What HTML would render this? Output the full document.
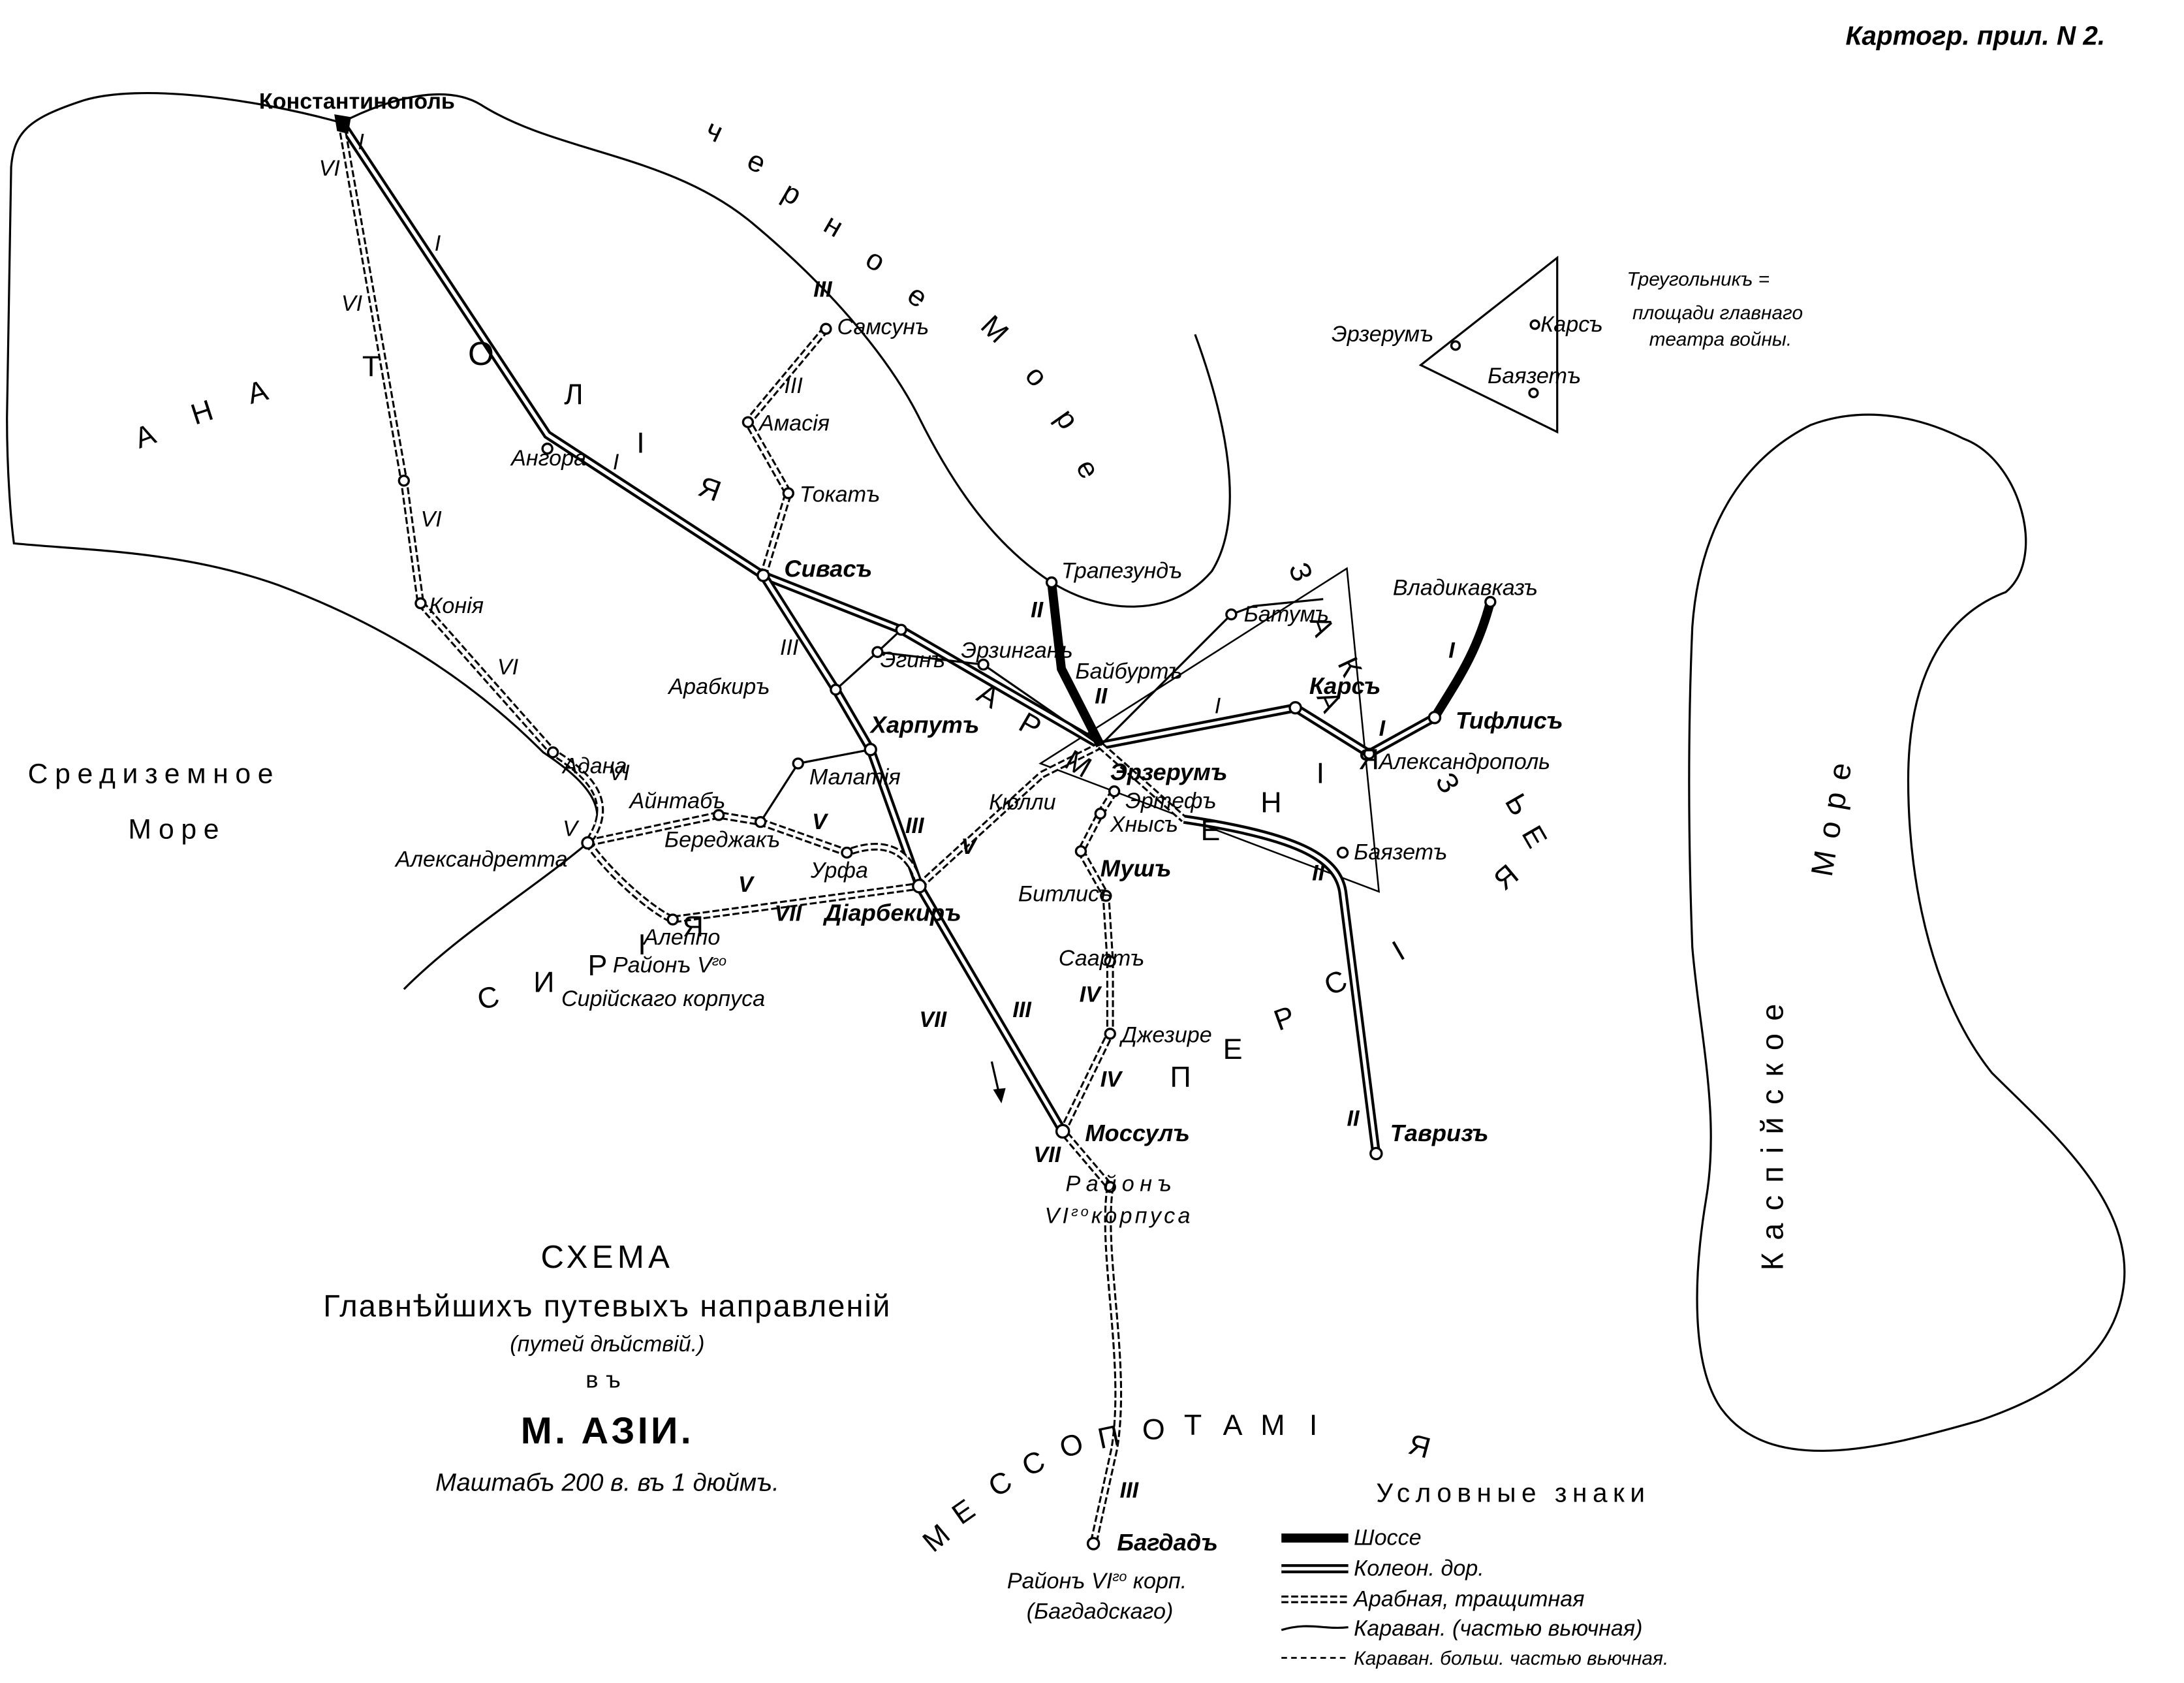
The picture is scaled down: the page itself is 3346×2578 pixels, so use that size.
<!DOCTYPE html>
<html><head><meta charset="utf-8"><style>
html,body{margin:0;padding:0;background:#fff}
svg{display:block}
text{font-family:"Liberation Sans","DejaVu Sans",sans-serif;fill:#000}
.i{font-style:italic;font-size:16px}
.b{font-weight:bold}
.k{fill:none;stroke:#000;stroke-width:6.5}
.kw{fill:none;stroke:#fff;stroke-width:2.5}
.a{fill:none;stroke:#000;stroke-width:5.5;stroke-dasharray:5 2}
.aw{fill:none;stroke:#fff;stroke-width:2.6}
.c{fill:none;stroke:#000;stroke-width:1.5}
.d{fill:none;stroke:#000;stroke-width:1.3;stroke-dasharray:4 3}
.s{fill:none;stroke:#000;stroke-width:6.5}
.n{fill:#fff;stroke:#000;stroke-width:1.6}
.big{font-size:21px;letter-spacing:0}
</style></head><body>
<svg width="3346" height="2578" viewBox="0 0 1568 1208" xmlns="http://www.w3.org/2000/svg">
<rect width="1568" height="1208" fill="#fff"/>
<defs>
<path id="r1" d="M245,88 L393,312 L548,413 L647,452 L790,535"/>
<path id="r2" d="M790,535 L930,508 L983,541 L1030,515"/>
<path id="r3" d="M850,588 C930,600 960,615 964,640 L988,828"/>
<path id="r4" d="M660,636 L763,812"/>
<path id="r5" d="M548,413 L600,495 L625,538 L660,636"/>
<path id="a1" d="M245,88 L290,345 L302,433 L397,540 C430,560 440,580 422,605 C440,630 470,655 483,660 L660,636"/>
<path id="a2" d="M422,605 L516,585 L546,590 L608,612 C640,600 655,615 660,636"/>
<path id="a3" d="M593,236 L537,303 L566,354 L548,413 L600,495"/>
<path id="a4" d="M660,636 L748,556 L790,535"/>
<path id="a5" d="M800,568 L790,584 L776,611 L794,643 L797,690 L797,742 L763,812 L797,852 C790,900 810,980 800,1040 L785,1108"/>
<path id="a6" d="M790,535 L850,588"/>
</defs>
<path class="c" d="M245,88 C180,70 100,60 60,72 C20,85 10,95 8,120 L5,300 C5,340 8,375 10,390 C60,395 130,395 200,420 C280,450 340,490 390,540 C420,560 440,580 422,605 C380,640 330,670 290,710"/>
<path class="c" d="M245,88 C280,70 320,60 345,75 C400,110 480,110 540,160 C600,210 640,260 660,300 C690,360 720,395 755,418 C790,440 840,445 870,410 C895,370 880,300 858,240"/>
<path class="c" d="M1300,305 C1340,290 1380,300 1410,315 C1450,330 1470,400 1440,425 C1400,440 1370,480 1370,560 C1370,640 1390,720 1430,770 C1470,810 1530,860 1525,920 C1520,970 1480,1000 1420,1020 C1350,1040 1270,1060 1235,1010 C1215,980 1215,920 1225,860 C1235,800 1220,740 1215,680 C1212,600 1212,520 1215,450 C1220,380 1250,330 1300,305 Z"/>
<path class="c" d="M967,408 L990,640 L747,548 Z" style="stroke-width:1.2"/>
<path class="c" d="M1020,262 L1118,185 L1118,310 Z"/>
<use href="#r1" class="k"/><use href="#r1" class="kw"/>
<use href="#r2" class="k"/><use href="#r2" class="kw"/>
<use href="#r3" class="k"/><use href="#r3" class="kw"/>
<use href="#r4" class="k"/><use href="#r4" class="kw"/>
<use href="#r5" class="k"/><use href="#r5" class="kw"/>
<use href="#a1" class="a"/><use href="#a1" class="aw"/>
<use href="#a2" class="a"/><use href="#a2" class="aw"/>
<use href="#a3" class="a"/><use href="#a3" class="aw"/>
<use href="#a4" class="a"/><use href="#a4" class="aw"/>
<use href="#a5" class="a"/><use href="#a5" class="aw"/>
<use href="#a6" class="a"/><use href="#a6" class="aw"/>
<path class="s" d="M755,418 L762,480 L790,535"/>
<path class="s" d="M1030,515 C1045,490 1060,470 1070,432"/>
<path class="c" d="M790,535 L884,441 L900,435 L950,430"/>
<path class="c" d="M647,452 L630,468 L600,495"/>
<path class="c" d="M625,538 L573,548 L546,590"/>
<path class="c" d="M630,468 L706,477 L790,535"/>
<path class="c" d="M712,762 L718,788"/><path d="M719,792 l-6,-10 l9,-1 z"/>
<path d="M240,82 L252,84 L250,96 L242,94 Z" fill="#000"/>
<g class="n">
<circle cx="393" cy="322" r="3.5"/><circle cx="548" cy="413" r="4"/><circle cx="593" cy="236" r="3.5"/>
<circle cx="537" cy="303" r="3.5"/><circle cx="566" cy="354" r="3.5"/><circle cx="600" cy="495" r="3.5"/>
<circle cx="630" cy="468" r="3.5"/><circle cx="647" cy="452" r="3.5"/><circle cx="706" cy="477" r="3.5"/><circle cx="625" cy="538" r="4"/>
<circle cx="573" cy="548" r="3.5"/><circle cx="755" cy="418" r="3.5"/><circle cx="884" cy="441" r="3.5"/>
<circle cx="930" cy="508" r="4"/><circle cx="1030" cy="515" r="4"/><circle cx="983" cy="541" r="3.5"/>
<circle cx="1070" cy="432" r="3.5"/><circle cx="290" cy="345" r="3.5"/><circle cx="302" cy="433" r="3.5"/><circle cx="397" cy="540" r="3.5"/>
<circle cx="422" cy="605" r="4"/><circle cx="516" cy="585" r="3.5"/><circle cx="546" cy="590" r="3.5"/>
<circle cx="608" cy="612" r="3.5"/><circle cx="483" cy="660" r="3.5"/><circle cx="660" cy="636" r="4.5"/>
<circle cx="800" cy="568" r="3.5"/><circle cx="790" cy="584" r="3.5"/><circle cx="776" cy="611" r="3.5"/>
<circle cx="794" cy="643" r="3.5"/><circle cx="797" cy="690" r="3.5"/><circle cx="797" cy="742" r="3.5"/>
<circle cx="763" cy="812" r="4.5"/><circle cx="797" cy="852" r="3.5"/><circle cx="785" cy="1108" r="4"/>
<circle cx="964" cy="612" r="3.5"/><circle cx="988" cy="828" r="4"/><circle cx="1045" cy="248" r="3"/>
<circle cx="1102" cy="233" r="3"/><circle cx="1101" cy="282" r="3"/>
</g>
<text x="1325" y="32" class="i b" style="font-size:19px">Картогр. прил. N 2.</text>
<text x="186" y="78" class="b" style="font-size:16px">Константинополь</text>
<g class="i">
<text x="229" y="126">VI</text><text x="257" y="107">I</text><text x="312" y="180">I</text><text x="245" y="223">VI</text>
<text x="302" y="378">VI</text><text x="357" y="484">VI</text><text x="437" y="560">VI</text><text x="404" y="600">V</text>
<text x="440" y="337">I</text>
<text x="367" y="334">Ангора</text><text x="563" y="414" class="b" style="font-size:17px">Сивасъ</text>
<text x="601" y="240">Самсунъ</text><text x="584" y="213" class="b">III</text><text x="563" y="282">III</text><text x="545" y="309">Амасія</text>
<text x="574" y="360">Токатъ</text><text x="560" y="470">III</text><text x="480" y="498">Арабкиръ</text>
<text x="632" y="479">Эгинъ</text><text x="690" y="472">Эрзинганъ</text><text x="625" y="526" class="b" style="font-size:17px">Харпутъ</text>
<text x="581" y="563">Малатія</text><text x="762" y="415">Трапезундъ</text><text x="740" y="443" class="b">II</text>
<text x="772" y="487">Байбуртъ</text><text x="786" y="505" class="b">II</text><text x="893" y="446">Батумъ</text>
<text x="940" y="498" class="b" style="font-size:17px">Карсъ</text><text x="872" y="512">I</text><text x="1045" y="523" class="b" style="font-size:17px">Тифлисъ</text>
<text x="990" y="552">Александрополь</text><text x="1000" y="427">Владикавказъ</text><text x="1040" y="472" class="b">I</text><text x="990" y="528" class="b">I</text>
<text x="797" y="560" class="b" style="font-size:17px">Эрзерумъ</text><text x="808" y="580">Эртефъ</text><text x="797" y="597">Хнысъ</text>
<text x="790" y="629" class="b" style="font-size:17px">Мушъ</text><text x="731" y="647">Битлисъ</text><text x="760" y="693">Саартъ</text>
<text x="775" y="719" class="b">IV</text><text x="805" y="748">Джезире</text><text x="790" y="780" class="b">IV</text>
<text x="779" y="819" class="b" style="font-size:17px">Моссулъ</text><text x="742" y="834" class="b">VII</text>
<text x="765" y="855" style="letter-spacing:4px">Районъ</text><text x="750" y="878" style="letter-spacing:2px">VI<tspan font-size="10" dy="-5">го</tspan><tspan dy="5">корпуса</tspan></text>
<text x="710" y="581">Кюлли</text><text x="690" y="613" class="b">V</text>
<text x="972" y="617">Баязетъ</text><text x="942" y="632" class="b">II</text><text x="967" y="808" class="b">II</text>
<text x="998" y="819" class="b" style="font-size:17px">Тавризъ</text>
<text x="404" y="555">Адана</text><text x="452" y="580">Айнтабъ</text><text x="477" y="608">Береджакъ</text>
<text x="583" y="595" class="b">V</text><text x="530" y="640" class="b">V</text><text x="284" y="622">Александретта</text>
<text x="582" y="630">Урфа</text><text x="556" y="661" class="b">VII</text><text x="592" y="661" class="b" style="font-size:17px">Діарбекиръ</text>
<text x="650" y="598" class="b">III</text><text x="660" y="737" class="b">VII</text><text x="727" y="730" class="b">III</text>
<text x="462" y="678">Алеппо</text><text x="440" y="698">Районъ V<tspan font-size="10" dy="-5">го</tspan></text><text x="403" y="722">Сирійскаго корпуса</text>
<text x="308" y="440">Конія</text>
<text x="802" y="1113" class="b" style="font-size:17px">Багдадъ</text><text x="804" y="1075" class="b">III</text>
<text x="723" y="1140">Районъ VI<tspan font-size="10" dy="-5">го</tspan><tspan dy="5"> корп.</tspan></text>
<text x="737" y="1162">(Багдадскаго)</text>
<text x="956" y="245">Эрзерумъ</text><text x="1106" y="238">Карсъ</text><text x="1068" y="275">Баязетъ</text>
<text x="1168" y="205" style="font-size:14px">Треугольникъ =</text><text x="1172" y="229" style="font-size:14px">площади главнаго</text>
<text x="1184" y="248" style="font-size:14px">театра войны.</text>
</g>
<g class="big">
<text x="100" y="322" transform="rotate(-20 100 322)">А</text><text x="140" y="305" transform="rotate(-18 140 305)">Н</text>
<text x="180" y="290" transform="rotate(-15 180 290)">А</text><text x="260" y="270">Т</text><text x="336" y="262" style="font-size:24px">О</text>
<text x="405" y="290">Л</text><text x="457" y="325">І</text><text x="500" y="355" transform="rotate(20 500 355)">Я</text>
<text x="700" y="502" transform="rotate(30 700 502)">А</text><text x="730" y="523" transform="rotate(30 730 523)">Р</text>
<text x="763" y="550" transform="rotate(30 763 550)">М</text><text x="862" y="603">Е</text><text x="905" y="583">Н</text><text x="945" y="562">І</text><text x="975" y="552">Я</text>
<text x="345" y="725" transform="rotate(-15 345 725)">С</text><text x="383" y="712">И</text><text x="422" y="700">Р</text><text x="458" y="685">І</text><text x="490" y="672">Я</text>
<text x="840" y="780">П</text><text x="878" y="760">Е</text><text x="918" y="740" transform="rotate(-20 918 740)">Р</text>
<text x="955" y="715" transform="rotate(-25 955 715)">С</text><text x="1005" y="690" transform="rotate(-30 1005 690)">І</text><text x="1080" y="640" transform="rotate(-40 1080 640)">Я</text>
<text x="925" y="407" transform="rotate(70 925 407)">З</text><text x="940" y="445" transform="rotate(70 940 445)">А</text>
<text x="960" y="476" transform="rotate(65 960 476)">К</text><text x="945" y="500" transform="rotate(65 945 500)">А</text>
<text x="1030" y="560" transform="rotate(60 1030 560)">З</text><text x="1080" y="575" transform="rotate(60 1080 575)">Ь</text><text x="1092" y="598" transform="rotate(60 1092 598)">Е</text>
<text x="670" y="1115" transform="rotate(-40 670 1115)">М</text><text x="690" y="1095" transform="rotate(-35 690 1095)">Е</text>
<text x="715" y="1075" transform="rotate(-30 715 1075)">С</text><text x="738" y="1060" transform="rotate(-25 738 1060)">С</text>
<text x="764" y="1047" transform="rotate(-20 764 1047)">О</text><text x="790" y="1040" transform="rotate(-12 790 1040)">П</text>
<text x="820" y="1033">О</text><text x="850" y="1030">Т</text><text x="878" y="1030">А</text><text x="905" y="1030">М</text><text x="940" y="1030">І</text><text x="1010" y="1043" transform="rotate(15 1010 1043)">Я</text>
<text x="505" y="98" transform="rotate(25 505 98)">ч</text><text x="535" y="120" transform="rotate(25 535 120)">е</text>
<text x="560" y="142" transform="rotate(30 560 142)">р</text><text x="590" y="165" transform="rotate(30 590 165)">н</text>
<text x="620" y="190" transform="rotate(30 620 190)">о</text><text x="650" y="215" transform="rotate(35 650 215)">е</text>
<text x="703" y="235" transform="rotate(45 703 235)">М</text><text x="735" y="270" transform="rotate(50 735 270)">о</text>
<text x="757" y="300" transform="rotate(55 757 300)">р</text><text x="772" y="335" transform="rotate(60 772 335)">е</text>
<text x="20" y="562" style="letter-spacing:5px;font-size:20px">Средиземное</text><text x="92" y="602" style="letter-spacing:5px;font-size:20px">Море</text>
<g style="font-size:22px">
<text x="1280" y="912" transform="rotate(-90 1280 912)" style="letter-spacing:9px">Каспійское</text>
<text x="1315" y="630" transform="rotate(-80 1315 630)" style="letter-spacing:9px">Море</text>
</g>
</g>
<g text-anchor="middle">
<text x="436" y="910" style="font-size:23px;letter-spacing:3px">СХЕМА</text>
<text x="436" y="945" style="font-size:22px;letter-spacing:1px">Главнѣйшихъ путевыхъ направленій</text>
<text x="436" y="970" class="i">(путей дѣйствій.)</text>
<text x="436" y="996" style="font-size:17px;letter-spacing:6px">въ</text>
<text x="436" y="1036" class="b" style="font-size:27px;letter-spacing:2px">М. АЗІИ.</text>
<text x="436" y="1070" class="i" style="font-size:18px">Маштабъ 200 в. въ 1 дюймъ.</text>
</g>
<text x="988" y="1078" style="font-size:19px;letter-spacing:4px">Условные знаки</text>
<line x1="920" y1="1104" x2="968" y2="1104" class="s"/>
<line x1="920" y1="1126" x2="968" y2="1126" class="k"/><line x1="920" y1="1126" x2="968" y2="1126" class="kw"/>
<line x1="920" y1="1148" x2="968" y2="1148" class="a"/><line x1="920" y1="1148" x2="968" y2="1148" class="aw"/>
<path class="c" d="M920,1170 C940,1164 950,1170 968,1168"/>
<line x1="920" y1="1190" x2="968" y2="1190" class="d"/>
<g class="i"><text x="972" y="1109">Шоссе</text><text x="972" y="1131">Колеон. дор.</text>
<text x="972" y="1153">Арабная, тращитная</text><text x="972" y="1174">Караван. (частью вьючная)</text>
<text x="972" y="1195" style="font-size:14px">Караван. больш. частью вьючная.</text></g>
</svg>
</body></html>
